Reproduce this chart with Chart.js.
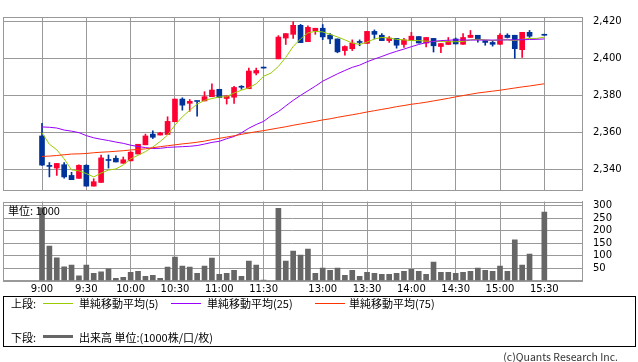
<!DOCTYPE html>
<html>
<head>
<meta charset="utf-8">
<script src="https://cdn.jsdelivr.net/npm/chart.js@4.4.1/dist/chart.umd.min.js"></script>
<style>
  html, body { margin: 0; padding: 0; background: #fff; }
  #wrap { position: relative; width: 638px; height: 362px; overflow: hidden;
          font-family: 'Noto Sans CJK JP', sans-serif; }
  canvas { position: absolute; left: 0; top: 0; }
  .t  { position: absolute; font-size: 11px; line-height: 12px; color: #000; white-space: nowrap; }
  .ln { position: absolute; height: 1px; width: 30px; }
  #legend { position: absolute; left: 3px; top: 296px; width: 633px; height: 51px;
            box-sizing: border-box; border: 1px solid #000; }
</style>
</head>
<body>
<div id="wrap">
  <canvas id="price" width="638" height="362"></canvas>
  <canvas id="vol" width="638" height="362"></canvas>
  <div class="t" style="left:8px; top:204px;">単位: 1000</div>

  <div id="legend"></div>
  <div class="t" style="left:11px; top:297px;">上段:</div>
  <div class="ln" style="left:43px; top:303px; background:#99cc00;"></div>
  <div class="t" style="left:79px; top:297px;">単純移動平均(5)</div>
  <div class="ln" style="left:171px; top:303px; background:#9900ff;"></div>
  <div class="t" style="left:207px; top:297px;">単純移動平均(25)</div>
  <div class="ln" style="left:315px; top:303px; background:#ff3300;"></div>
  <div class="t" style="left:349px; top:297px;">単純移動平均(75)</div>
  <div class="t" style="left:11px; top:331px;">下段:</div>
  <div class="ln" style="left:43px; top:335px; height:3px; background:#666;"></div>
  <div class="t" style="left:79px; top:331px;">出来高 単位:(1000株/口/枚)</div>

  <div class="t" style="right:20px; top:351px; font-size:10.5px; color:#333;">(c)Quants Research Inc.</div>
</div>

<script>
// ── Data (5-minute bars, slot 0 = 9:00, slot 31 = lunch gap, slot 67 = no trade) ──
const openP  = [2358.0,2341.5,2340.6,2342.4,2336.6,2335.0,2342.1,2330.8,2332.8,2344.7,
                2345.9,2343.2,2344.5,2348.2,2353.2,2359.0,2358.5,2358.8,2365.7,2378.0,
                2375.7,2376.7,2377.0,2379.3,2383.3,2378.3,2379.0,2384.4,2383.6,2392.1,
                2394.8,null,  2399.8,2411.1,2413.1,2418.0,2409.1,2415.0,2416.4,2412.7,
                2410.6,2404.3,2405.3,2408.7,2408.2,2414.7,2412.6,2409.7,2410.9,2407.6,
                2409.7,2411.9,2408.4,2410.9,2406.5,2407.6,2410.6,2407.7,2411.4,2412.6,
                2409.7,2408.7,2407.7,2412.6,2412.6,2404.8,2414.2,null,  2412.6];
const highP  = [2364.8,2343.6,2343.1,2343.6,2338.3,2342.4,2342.4,2334.8,2347.7,2347.7,
                2347.2,2346.6,2349.5,2353.5,2359.0,2360.8,2360.0,2368.4,2378.0,2378.7,
                2377.8,2376.7,2382.0,2386.3,2383.3,2379.7,2384.9,2385.3,2394.8,2394.8,
                2394.8,null,  2412.4,2413.5,2420.0,2418.5,2417.7,2416.4,2418.4,2413.5,
                2410.6,2406.9,2410.1,2410.1,2414.7,2415.5,2413.5,2411.9,2410.9,2410.9,
                2414.2,2411.9,2411.4,2410.9,2408.1,2411.4,2411.1,2413.5,2415.2,2412.6,
                2409.7,2409.7,2413.5,2413.4,2412.6,2414.2,2415.2,null,  2412.6];
const lowP   = [2342.0,2335.8,2336.6,2335.1,2334.3,2335.0,2330.8,2330.8,2332.8,2340.6,
                2343.9,2343.2,2344.5,2348.2,2353.2,2356.6,2358.5,2358.8,2365.7,2372.0,
                2371.4,2368.7,2377.0,2379.3,2378.8,2375.3,2375.7,2383.3,2383.6,2391.1,
                2394.8,null,  2399.8,2407.6,2410.9,2408.6,2409.1,2413.1,2410.2,2408.1,
                2403.1,2401.8,2404.3,2406.9,2408.2,2410.6,2409.7,2408.7,2405.6,2406.0,
                2409.7,2408.4,2406.3,2403.5,2403.1,2407.6,2407.9,2407.7,2411.4,2408.9,
                2407.2,2406.7,2407.7,2411.1,2400.1,2400.6,2411.4,null,  2412.6];
const closeP = [2342.2,2341.5,2343.1,2335.8,2334.3,2342.1,2330.8,2333.2,2346.1,2344.7,
                2343.9,2345.1,2349.2,2353.5,2358.0,2357.3,2359.6,2365.9,2378.0,2374.7,
                2376.8,2376.7,2379.3,2382.9,2378.8,2379.7,2384.3,2384.4,2393.2,2393.5,
                2394.8,null,  2411.6,2413.5,2418.0,2408.6,2416.9,2416.4,2411.7,2410.6,
                2403.6,2406.5,2408.4,2408.7,2414.7,2413.1,2409.7,2411.1,2407.2,2410.1,
                2412.1,2408.4,2411.4,2406.9,2408.1,2409.4,2407.9,2411.4,2412.6,2410.4,
                2408.7,2407.7,2412.6,2411.4,2405.3,2414.2,2412.1,null,  2412.6];

const ma5  = [2359.7,2353.5,2350.5,2345.6,2339.6,2339.1,2337.6,2335.8,2337.9,2339.5,
              2340.1,2342.3,2345.6,2347.5,2349.5,2352.0,2355.0,2358.5,2363.9,2368.4,
              2371.9,2375.3,2377.3,2378.3,2379.1,2379.3,2381.3,2382.8,2384.1,2386.3,
              2390.4,2392.1,2395.7,2400.6,2406.5,2410.6,2413.9,2414.7,2414.4,2413.1,
              2411.7,2410.1,2408.4,2407.6,2408.9,2410.6,2411.4,2411.1,2410.4,2410.1,
              2409.7,2409.7,2409.4,2409.2,2409.2,2409.1,2409.1,2409.2,2410.1,2410.4,
              2410.1,2409.7,2410.1,2410.1,2409.7,2410.4,2410.9,2410.9,2411.6];
const ma25 = [2362.9,2362.7,2362.3,2361.2,2360.6,2359.8,2358.2,2357.0,2356.2,2355.5,
              2354.7,2354.0,2353.0,2352.3,2351.7,2351.2,2351.3,2351.8,2352.0,2352.2,
              2352.4,2352.8,2353.6,2354.5,2355.1,2356.5,2357.7,2359.7,2362.2,2364.2,
              2365.9,2368.9,2371.2,2374.3,2377.3,2380.0,2382.5,2385.0,2387.7,2389.7,
              2391.7,2393.5,2395.2,2396.4,2398.2,2399.7,2401.1,2402.6,2403.9,2405.1,
              2406.4,2407.6,2408.6,2409.3,2409.7,2409.9,2410.1,2410.0,2410.0,2410.0,
              2410.0,2410.0,2410.0,2410.1,2410.1,2410.2,2410.3,2410.4,2410.6];
const ma75 = [2346.9,2347.1,2347.4,2347.8,2348.2,2348.3,2348.5,2348.9,2349.2,2349.4,
              2349.7,2350.0,2350.4,2350.7,2351.0,2351.6,2352.2,2352.7,2353.2,2353.7,
              2354.1,2354.6,2355.2,2356.0,2356.7,2357.4,2358.1,2358.9,2359.6,2360.3,
              2360.9,2361.6,2362.3,2363.0,2363.8,2364.5,2365.2,2365.9,2366.7,2367.3,
              2368.1,2368.8,2369.5,2370.2,2371.0,2371.7,2372.4,2373.1,2373.9,2374.5,
              2375.2,2375.7,2376.3,2377.0,2377.7,2378.4,2379.2,2379.9,2380.6,2381.3,
              2381.8,2382.3,2382.8,2383.4,2384.0,2384.6,2385.1,2385.7,2386.3];

const volume = [292,138,91,55,62,19,62,29,35,47,
                9,13,33,37,17,21,9,54,94,58,
                54,29,58,90,25,29,41,17,78,62,
                2,null,290,78,118,102,126,29,50,41,
                50,21,41,17,33,29,25,25,29,37,
                45,37,25,74,33,33,29,33,37,50,
                41,37,58,37,163,62,106,null,275];

const timeTickPos    = [0, 6, 12, 18, 24, 30, 38, 44, 50, 56, 62, 68];
const timeTickLabels = ['9:00','9:30','10:00','10:30','11:00','11:30',
                        '13:00','13:30','14:00','14:30','15:00','15:30'];
const priceTicks  = [2340, 2360, 2380, 2400, 2420];
const volumeTicks = [50, 100, 150, 200, 250, 300];

// ── Styles ────────────────────────────────────────────────────
const GRID   = '#999999';
const UP     = '#ff0033';
const DOWN   = '#003399';
const X_MIN  = -5.28;
const X_MAX  = 73.1;
const tickFont = { family: "'DejaVu Sans', sans-serif", size: 10 };

const slots   = openP.map((v, i) => i).filter(i => openP[i] !== null);
const cColors = slots.map(i => closeP[i] > openP[i] ? UP : DOWN);

// frame round the plot area (left/top edges are not drawn by the axes)
const frame = {
  id: 'frame',
  afterDraw(chart) {
    const { ctx, chartArea: a } = chart;
    ctx.save();
    ctx.strokeStyle = GRID;
    ctx.lineWidth = 1;
    ctx.strokeRect(Math.round(a.left) + 0.5, Math.round(a.top) + 0.5,
                   Math.round(a.right - a.left) - 1 + 1, Math.round(a.bottom - a.top));
    ctx.restore();
  }
};

const timeAxis = (showLabels) => ({
  type: 'linear', min: X_MIN, max: X_MAX, offset: false,
  grid:   { color: GRID, drawTicks: false, offset: false },
  border: { color: GRID },
  afterBuildTicks: s => { s.ticks = timeTickPos.map(v => ({ value: v })); },
  afterFit: s => { s.height = showLabels ? 20 : 0; },
  ticks: {
    display: showLabels, padding: 3, color: '#000', font: tickFont, maxRotation: 0,
    callback: v => timeTickLabels[timeTickPos.indexOf(v)] || ''
  }
});

const maLine = (label, values, color) => ({
  type: 'line', label,
  data: values.map((v, i) => ({ x: i, y: v })),
  borderColor: color, borderWidth: 1, pointRadius: 0, tension: 0, spanGaps: true, order: 0
});

// ── Price chart (candles + moving averages) ───────────────────
new Chart(document.getElementById('price'), {
  type: 'bar',
  data: {
    datasets: [
      maLine('75', ma75, '#ff3300'),
      maLine('25', ma25, '#9900ff'),
      maLine('5',  ma5,  '#99cc00'),
      {
        label: 'wick',
        data: slots.map(i => ({ x: i, y: [lowP[i], highP[i]] })),
        backgroundColor: cColors, barThickness: 1, minBarLength: 1, grouped: false, order: 2
      },
      {
        label: 'body',
        data: slots.map(i => ({ x: i, y: [openP[i], closeP[i]] })),
        backgroundColor: cColors, barThickness: 5, minBarLength: 1, grouped: false, order: 1
      }
    ]
  },
  options: {
    responsive: false, animation: false,
    layout: { padding: { left: 3, top: 1, right: 0, bottom: 172 } },
    plugins: { legend: { display: false }, tooltip: { enabled: false } },
    scales: {
      x: timeAxis(false),
      y: {
        position: 'right', min: 2328.7, max: 2422.5,
        afterBuildTicks: s => { s.ticks = priceTicks.map(v => ({ value: v })); },
        afterFit: s => { s.width = 56; },
        grid:   { color: GRID, drawTicks: false },
        border: { color: GRID },
        ticks:  { padding: 11, color: '#000', font: tickFont,
                  callback: v => v.toLocaleString('en-US') }
      }
    }
  },
  plugins: [frame]
});

// ── Volume chart ──────────────────────────────────────────────
new Chart(document.getElementById('vol'), {
  type: 'bar',
  data: {
    datasets: [{
      label: 'volume',
      data: slots.map(i => ({ x: i, y: volume[i] })),
      backgroundColor: '#666666', barThickness: 5
    }]
  },
  options: {
    responsive: false, animation: false,
    layout: { padding: { left: 3, top: 201.5, right: 0, bottom: 61.5 } },
    plugins: { legend: { display: false }, tooltip: { enabled: false } },
    scales: {
      x: timeAxis(true),
      y: {
        position: 'right', min: 0, max: 317,
        afterBuildTicks: s => { s.ticks = volumeTicks.map(v => ({ value: v })); },
        afterFit: s => { s.width = 56; },
        grid:   { color: GRID, drawTicks: false },
        border: { color: GRID },
        ticks:  { padding: 11, color: '#000', font: tickFont }
      }
    }
  },
  plugins: [frame]
});
</script>
</body>
</html>
